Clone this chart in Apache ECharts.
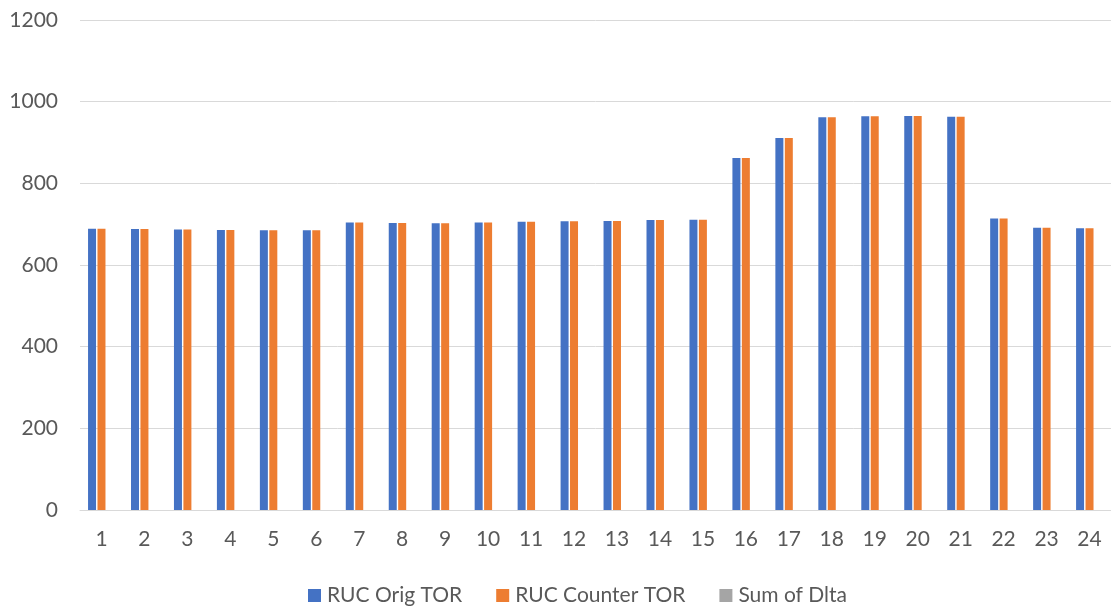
<!DOCTYPE html>
<html>
<head>
<meta charset="utf-8">
<script src="https://cdn.jsdelivr.net/npm/echarts@6/dist/echarts.min.js"></script>
<style>
  html, body { margin: 0; padding: 0; background: #fff; overflow: hidden; }
  #chart { width: 1111px; height: 607px; }
</style>
</head>
<body>
<div id="chart"></div>
<script>
// Hourly values, hours 1..24
const hours = ['1','2','3','4','5','6','7','8','9','10','11','12','13','14','15','16','17','18','19','20','21','22','23','24'];
const origTor =    [689, 688, 687, 686, 685, 685, 704, 703, 702, 704, 706, 707, 708, 710, 711, 862, 911, 962, 964, 965, 963, 714, 691, 690];
const counterTor = [689, 688, 687, 686, 685, 685, 704, 703, 702, 704, 706, 707, 708, 710, 711, 862, 911, 962, 964, 965, 963, 714, 691, 690];
const sumDelta =   [0, 0, 0, 0, 0, 0, 0, 0, 0, 0, 0, 0, 0, 0, 0, 0, 0, 0, 0, 0, 0, 0, 0, 0];
const yTicks = { min: 0, max: 1200, interval: 200 };

const FONT = 'Lato, "Open Sans", sans-serif';
const chart = echarts.init(document.getElementById('chart'), null, { renderer: 'canvas' });

chart.setOption({
  animation: false,
  textStyle: { fontFamily: FONT },
  grid: { left: 80, right: -5, top: 20, bottom: 97, containLabel: false },
  legend: {
    top: 580,
    left: 303,
    itemWidth: 13,
    itemHeight: 13,
    itemGap: 34,
    icon: 'rect',
    textStyle: { fontSize: 21, color: '#595959', fontFamily: FONT, padding: [0, 0, 0, 1] },
    data: ['RUC Orig TOR', 'RUC Counter TOR', 'Sum of Dlta']
  },
  xAxis: {
    type: 'category',
    data: hours,
    axisLine: { lineStyle: { color: '#D9D9D9', width: 1 } },
    axisTick: { show: false },
    axisLabel: { fontSize: 21, color: '#595959', margin: 19, fontFamily: FONT }
  },
  yAxis: {
    type: 'value',
    min: yTicks.min,
    max: yTicks.max,
    interval: yTicks.interval,
    axisLine: { show: false },
    axisTick: { show: false },
    splitLine: { lineStyle: { color: '#D9D9D9', width: 1 } },
    axisLabel: { fontSize: 21, color: '#595959', margin: 22, fontFamily: FONT, formatter: (v) => String(v) }
  },
  series: [
    {
      name: 'RUC Orig TOR', type: 'bar', data: origTor,
      barWidth: 8, barGap: '18%',
      itemStyle: { color: '#4472C4' }
    },
    {
      name: 'RUC Counter TOR', type: 'bar', data: counterTor,
      barWidth: 8,
      itemStyle: { color: '#ED7D31' }
    },
    {
      name: 'Sum of Dlta', type: 'bar', data: sumDelta,
      barWidth: 8,
      itemStyle: { color: '#A5A5A5' }
    }
  ]
});
</script>
</body>
</html>
